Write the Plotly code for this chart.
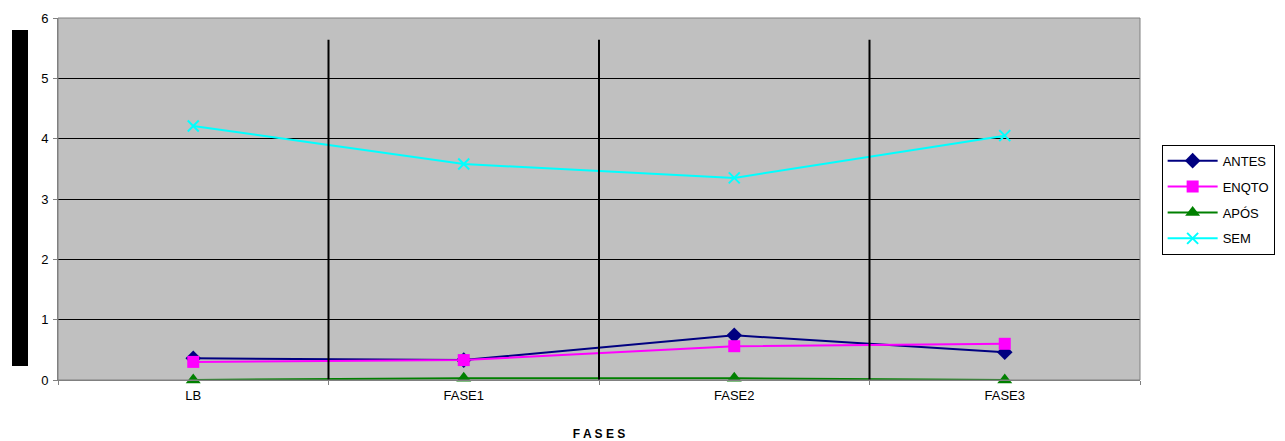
import plotly.graph_objects as go

fases = ["LB", "FASE1", "FASE2", "FASE3"]
antes = [0.36, 0.33, 0.74, 0.46]
enqto = [0.30, 0.33, 0.56, 0.60]
apos = [0.00, 0.03, 0.03, 0.00]
sem = [4.21, 3.58, 3.35, 4.05]
y_ticks = [0, 1, 2, 3, 4, 5, 6]

series = [
    ("ANTES", antes, "#000080", "diamond", 12),
    ("ENQTO", enqto, "#FF00FF", "square", 12),
    ("APÓS", apos, "#008000", "triangle-up", 13),
    ("SEM", sem, "#00FFFF", "x-thin-open", 11),
]

fig = go.Figure()
for name, vals, color, symbol, size in series:
    marker = dict(symbol=symbol, size=size, color=color)
    if symbol == "x-thin-open":
        marker["line"] = dict(color=color, width=2)
    fig.add_trace(go.Scatter(
        x=fases, y=vals, name=name, legendgroup=name, mode="lines+markers",
        line=dict(color=color, width=2), marker=marker, cliponaxis=False,
    ))

# separators between phases
for i in range(len(fases) - 1):
    fig.add_shape(type="line", xref="x", yref="y", x0=i + 0.5, x1=i + 0.5,
                  y0=0, y1=5.64, line=dict(color="black", width=2), layer="above")

# plot frame
fig.add_shape(type="rect", xref="paper", yref="paper", x0=0, x1=1, y0=0, y1=1,
              line=dict(color="#808080", width=1), layer="above")

# left black bar
fig.add_shape(type="rect", xref="paper", yref="paper",
              x0=-46 / 1082, x1=-30 / 1082, y0=(380 - 366) / 362, y1=(380 - 30) / 362,
              line=dict(width=0), fillcolor="black")

fig.update_layout(
    width=1285, height=441,
    margin=dict(l=58, r=145, t=18, b=61, autoexpand=False),
    paper_bgcolor="white", plot_bgcolor="#C0C0C0",
    font=dict(family="Liberation Sans, Arial, sans-serif", size=13, color="black"),
    showlegend=True,
    legend=dict(x=1.02, y=0.65, xanchor="left", yanchor="top",
                bgcolor="white", bordercolor="black", borderwidth=1,
                font=dict(size=13), tracegroupgap=6, itemwidth=50),
    xaxis=dict(
        range=[-0.5, 3.5], showgrid=False, ticks="outside", tickson="boundaries",
        ticklen=4, tickcolor="#808080", showline=True, linecolor="#808080",
        ticklabelstandoff=3,
        title=dict(text="<b>F A S E S</b>", font=dict(size=12), standoff=28),
        zeroline=False, automargin=False,
    ),
    yaxis=dict(
        range=[0, 6], tickvals=y_ticks, showgrid=True, gridcolor="black", gridwidth=1,
        ticks="outside", ticklen=4, tickcolor="#808080", showline=True,
        linecolor="#808080", zeroline=False, automargin=False, ticklabelstandoff=2,
    ),
)

fig.write_html("out.html")
